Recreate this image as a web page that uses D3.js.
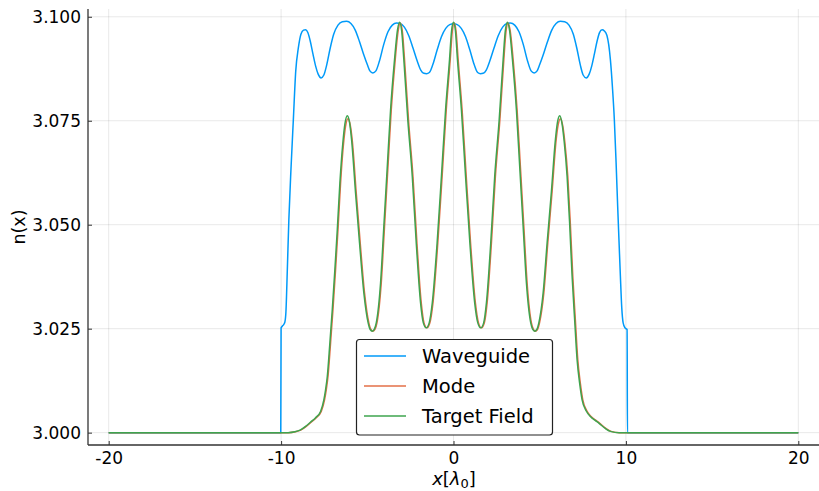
<!DOCTYPE html>
<html>
<head>
<meta charset="utf-8">
<script src="https://cdn.jsdelivr.net/npm/d3@7"></script>
<style>
  html, body { margin: 0; padding: 0; background: #fff; }
  svg { display: block; font-family: "DejaVu Sans", sans-serif; }
</style>
</head>
<body>
<svg id="chart" width="819" height="491"></svg>
<script>
// Refractive index profile of the waveguide, n(x), with x in units of λ0
const waveX = [
  -20, -10.02, -10.00, -9.93, -9.85, -9.78, -9.72, -9.64,
  -9.55, -9.42, -9.29, -9.15, -9.00, -8.85, -8.70, -8.58,
  -8.45, -8.30, -8.15, -8.00, -7.85, -7.68, -7.52, -7.35,
  -7.15, -6.95, -6.70, -6.45, -6.20, -5.95, -5.70, -5.45,
  -5.20, -5.00, -4.85, -4.68, -4.50, -4.30, -4.05, -3.80,
  -3.55, -3.30, -3.10, -2.85, -2.60, -2.35, -2.10, -1.90,
  -1.72, -1.57, -1.40, -1.20, -0.95, -0.70, -0.45, -0.22,
  0.00, 0.22, 0.45, 0.70, 0.95, 1.20, 1.40, 1.57,
  1.72, 1.90, 2.10, 2.35, 2.60, 2.85, 3.10, 3.30,
  3.55, 3.80, 4.05, 4.30, 4.50, 4.68, 4.85, 5.00,
  5.20, 5.45, 5.70, 5.95, 6.20, 6.45, 6.70, 6.95,
  7.15, 7.35, 7.52, 7.70, 7.87, 8.02, 8.17, 8.32,
  8.47, 8.62, 8.75, 8.90, 9.10, 9.22, 9.33, 9.43,
  9.53, 9.61, 9.68, 9.76, 9.84, 9.95, 10.07, 10.09,
  20
];
const waveN = [
  3.0000, 3.0000, 3.0252, 3.0256, 3.0260, 3.0266, 3.0290, 3.0390,
  3.0512, 3.0640, 3.0752, 3.0870, 3.0925, 3.0958, 3.0968, 3.0969,
  3.0962, 3.0940, 3.0910, 3.0882, 3.0862, 3.0853, 3.0860, 3.0885,
  3.0925, 3.0958, 3.0980, 3.0988, 3.0989, 3.0984, 3.0968, 3.0940,
  3.0908, 3.0885, 3.0870, 3.0865, 3.0870, 3.0893, 3.0933, 3.0964,
  3.0980, 3.0985, 3.0984, 3.0975, 3.0955, 3.0925, 3.0893, 3.0872,
  3.0864, 3.0863, 3.0866, 3.0885, 3.0920, 3.0952, 3.0972, 3.0981,
  3.0983, 3.0981, 3.0972, 3.0952, 3.0920, 3.0885, 3.0866, 3.0863,
  3.0864, 3.0872, 3.0893, 3.0925, 3.0955, 3.0975, 3.0984, 3.0985,
  3.0980, 3.0964, 3.0933, 3.0893, 3.0870, 3.0865, 3.0870, 3.0885,
  3.0908, 3.0940, 3.0968, 3.0984, 3.0989, 3.0988, 3.0980, 3.0958,
  3.0925, 3.0885, 3.0860, 3.0853, 3.0862, 3.0882, 3.0910, 3.0940,
  3.0962, 3.0969, 3.0966, 3.0955, 3.0897, 3.0830, 3.0752, 3.0650,
  3.0536, 3.0450, 3.0376, 3.0300, 3.0264, 3.0252, 3.0248, 3.0000,
  3.0000
];

// Computed mode profile
const modeX = [
  -20, -9.56, -9.16, -8.86, -8.54, -8.26, -7.96, -7.67,
  -7.48, -7.38, -7.28, -7.13, -6.99, -6.84, -6.70, -6.55,
  -6.38, -6.26, -6.12, -5.99, -5.87, -5.64, -5.41, -5.16,
  -4.91, -4.79, -4.67, -4.55, -4.44, -4.19, -4.00, -3.80,
  -3.61, -3.38, -3.21, -3.09, -2.97, -2.84, -2.61, -2.35,
  -2.12, -1.87, -1.71, -1.54, -1.37, -1.19, -0.91, -0.66,
  -0.42, -0.19, -0.07, 0.04, 0.15, 0.27, 0.50, 0.74,
  0.99, 1.27, 1.45, 1.62, 1.79, 1.95, 2.20, 2.43,
  2.69, 2.92, 3.05, 3.17, 3.29, 3.46, 3.69, 3.88,
  4.08, 4.27, 4.52, 4.63, 4.75, 4.87, 4.99, 5.24,
  5.47, 5.72, 5.95, 6.07, 6.20, 6.34, 6.46, 6.63,
  6.78, 6.92, 7.07, 7.21, 7.36, 7.50, 7.74, 7.98,
  8.24, 8.47, 8.84, 9.14, 9.64, 20
];
const modeN = [
  3.0000, 3.0000, 3.0002, 3.0006, 3.0015, 3.0025, 3.0036, 3.0051,
  3.0079, 3.0103, 3.0135, 3.0216, 3.0296, 3.0392, 3.0488, 3.0600,
  3.0694, 3.0737, 3.0755, 3.0740, 3.0702, 3.0576, 3.0456, 3.0336,
  3.0264, 3.0248, 3.0244, 3.0249, 3.0264, 3.0360, 3.0496, 3.0640,
  3.0776, 3.0897, 3.0966, 3.0985, 3.0966, 3.0897, 3.0752, 3.0616,
  3.0456, 3.0312, 3.0264, 3.0252, 3.0264, 3.0312, 3.0456, 3.0616,
  3.0776, 3.0897, 3.0965, 3.0985, 3.0965, 3.0897, 3.0776, 3.0616,
  3.0456, 3.0312, 3.0264, 3.0252, 3.0264, 3.0312, 3.0456, 3.0616,
  3.0752, 3.0897, 3.0966, 3.0985, 3.0966, 3.0897, 3.0776, 3.0640,
  3.0496, 3.0360, 3.0264, 3.0249, 3.0244, 3.0248, 3.0264, 3.0336,
  3.0456, 3.0580, 3.0702, 3.0740, 3.0755, 3.0737, 3.0698, 3.0616,
  3.0500, 3.0376, 3.0270, 3.0175, 3.0118, 3.0079, 3.0052, 3.0039,
  3.0030, 3.0023, 3.0010, 3.0003, 3.0000, 3.0000
];

// Target field profile
const targetX = [
  -20, -9.60, -9.20, -8.90, -8.58, -8.30, -8.00, -7.71,
  -7.52, -7.42, -7.32, -7.17, -7.03, -6.88, -6.74, -6.59,
  -6.42, -6.30, -6.16, -6.03, -5.91, -5.68, -5.45, -5.20,
  -4.95, -4.83, -4.71, -4.59, -4.48, -4.23, -4.04, -3.84,
  -3.65, -3.42, -3.25, -3.13, -3.01, -2.88, -2.65, -2.39,
  -2.16, -1.91, -1.75, -1.58, -1.41, -1.23, -0.95, -0.70,
  -0.46, -0.23, -0.11, 0.00, 0.11, 0.23, 0.46, 0.70,
  0.95, 1.23, 1.41, 1.58, 1.75, 1.91, 2.16, 2.39,
  2.65, 2.88, 3.01, 3.13, 3.25, 3.42, 3.65, 3.84,
  4.04, 4.23, 4.48, 4.59, 4.71, 4.83, 4.95, 5.20,
  5.43, 5.68, 5.91, 6.03, 6.16, 6.30, 6.42, 6.59,
  6.74, 6.88, 7.03, 7.17, 7.32, 7.46, 7.70, 7.94,
  8.20, 8.43, 8.80, 9.10, 9.60, 20
];
const targetN = [
  3.0000, 3.0000, 3.0002, 3.0006, 3.0015, 3.0025, 3.0036, 3.0051,
  3.0079, 3.0103, 3.0135, 3.0216, 3.0296, 3.0392, 3.0488, 3.0600,
  3.0696, 3.0742, 3.0762, 3.0746, 3.0704, 3.0576, 3.0456, 3.0336,
  3.0264, 3.0248, 3.0244, 3.0249, 3.0264, 3.0360, 3.0496, 3.0640,
  3.0776, 3.0897, 3.0968, 3.0987, 3.0968, 3.0897, 3.0752, 3.0616,
  3.0456, 3.0312, 3.0264, 3.0252, 3.0264, 3.0312, 3.0456, 3.0616,
  3.0776, 3.0897, 3.0967, 3.0987, 3.0967, 3.0897, 3.0776, 3.0616,
  3.0456, 3.0312, 3.0264, 3.0252, 3.0264, 3.0312, 3.0456, 3.0616,
  3.0752, 3.0897, 3.0968, 3.0987, 3.0968, 3.0897, 3.0776, 3.0640,
  3.0496, 3.0360, 3.0264, 3.0249, 3.0244, 3.0248, 3.0264, 3.0336,
  3.0456, 3.0580, 3.0704, 3.0746, 3.0762, 3.0742, 3.0700, 3.0616,
  3.0500, 3.0376, 3.0270, 3.0175, 3.0118, 3.0079, 3.0052, 3.0039,
  3.0030, 3.0023, 3.0010, 3.0003, 3.0000, 3.0000
];

const seriesNames = ["Waveguide", "Mode", "Target Field"];
const seriesColors = ["#009af9", "#e36f47", "#3ea44e"];

const xTicks = [-20, -10, 0, 10, 20];
const xTickLabels = ["-20", "-10", "0", "10", "20"];
const yTicks = [3.000, 3.025, 3.050, 3.075, 3.100];
const yTickLabels = ["3.000", "3.025", "3.050", "3.075", "3.100"];

const svg = d3.select("#chart");
const plotLeft = 88, plotRight = 819, plotTop = 9, plotBottom = 445;

const x = d3.scaleLinear().domain([-21.2, 21.2]).range([plotLeft, plotRight]);
const y = d3.scaleLinear().domain([2.99703, 3.10187]).range([plotBottom, plotTop]);

// grid
const grid = svg.append("g").attr("stroke", "#000").attr("stroke-opacity", 0.09).attr("stroke-width", 1);
grid.selectAll("line.gx").data(xTicks).join("line")
  .attr("x1", d => x(d)).attr("x2", d => x(d)).attr("y1", plotTop).attr("y2", plotBottom);
grid.selectAll("line.gy").data(yTicks).join("line")
  .attr("x1", plotLeft).attr("x2", plotRight).attr("y1", d => y(d)).attr("y2", d => y(d));

// curves
const zip = (xs, ys) => xs.map((v, i) => [v, ys[i]]);
const series = [zip(waveX, waveN), zip(modeX, modeN), zip(targetX, targetN)];
const line = d3.line().x(d => x(d[0])).y(d => y(d[1])).curve(d3.curveMonotoneX);
const plot = svg.append("g");
series.forEach((s, i) => {
  plot.append("path").datum(s)
    .attr("fill", "none")
    .attr("stroke", seriesColors[i])
    .attr("stroke-width", 1.5)
    .attr("stroke-linejoin", "round")
    .attr("d", line);
});

// axes
const xAxis = d3.axisBottom(x).tickValues(xTicks).tickFormat((d, i) => xTickLabels[i])
  .tickSizeInner(-4).tickSizeOuter(0).tickPadding(7);
const yAxis = d3.axisLeft(y).tickValues(yTicks).tickFormat((d, i) => yTickLabels[i])
  .tickSizeInner(-4).tickSizeOuter(0).tickPadding(7);

const gx = svg.append("g").attr("transform", `translate(0,${plotBottom})`).call(xAxis);
const gy = svg.append("g").attr("transform", `translate(${plotLeft},0)`).call(yAxis);
[gx, gy].forEach(g => {
  g.select(".domain").attr("stroke", "#333").attr("stroke-width", 1.3);
  g.selectAll(".tick line").attr("stroke", "#333").attr("stroke-width", 1);
  g.selectAll(".tick text").attr("fill", "#000")
    .style("font-family", "'DejaVu Sans', sans-serif").style("font-size", "17px");
});
gx.select(".domain").attr("d", `M${plotLeft},0H${plotRight}`);
gy.select(".domain").attr("d", `M0,${plotTop}V${plotBottom}`);

// axis titles
const xt = svg.append("text")
  .attr("x", (plotLeft + plotRight) / 2 + 0.5).attr("y", 485)
  .attr("text-anchor", "middle")
  .style("font-size", "18px").attr("fill", "#000");
xt.append("tspan").style("font-style", "italic").text("x");
xt.append("tspan").text("[");
xt.append("tspan").style("font-style", "italic").text("λ");
xt.append("tspan").attr("font-size", "13px").attr("dy", 3).text("0");
xt.append("tspan").attr("dy", -3).text("]");

svg.append("text")
  .attr("transform", "translate(25,227) rotate(-90)")
  .attr("text-anchor", "middle")
  .style("font-size", "17.5px").attr("fill", "#000")
  .text("n(x)");

// legend
const lg = svg.append("g");
lg.append("rect")
  .attr("x", 356.5).attr("y", 339.5).attr("width", 196).attr("height", 95.5)
  .attr("rx", 3).attr("fill", "#fff").attr("stroke", "#222").attr("stroke-width", 1.2);
seriesNames.forEach((name, i) => {
  const cy = 356 + i * 30;
  lg.append("line").attr("x1", 364).attr("x2", 406).attr("y1", cy).attr("y2", cy)
    .attr("stroke", seriesColors[i]).attr("stroke-width", 1.5);
  lg.append("text").attr("x", 422).attr("y", cy).attr("dy", "0.36em")
    .style("font-size", "19.5px").attr("fill", "#000").text(name);
});
</script>
</body>
</html>
